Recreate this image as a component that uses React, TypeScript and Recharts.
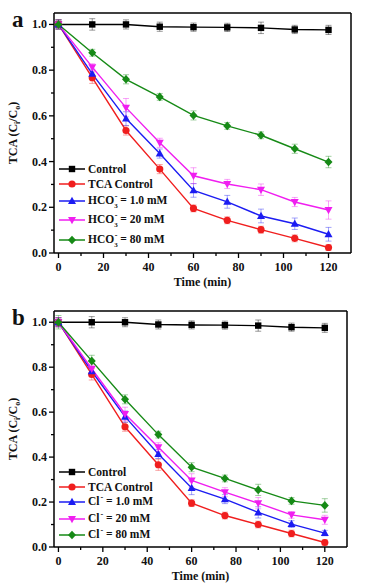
import { ErrorBar, Legend, Line, LineChart, ReferenceLine, XAxis, YAxis } from 'recharts'

// sampling times (min)
const TIME = [0, 15, 30, 45, 60, 75, 90, 105, 120]

// panel a: bicarbonate
const A_CONTROL = [1.0, 1.0, 1.0, 0.99, 0.988, 0.987, 0.985, 0.978, 0.976]
const A_CONTROL_ERR = [0.02, 0.025, 0.02, 0.02, 0.018, 0.018, 0.025, 0.018, 0.02]
const A_TCA = [1.0, 0.767, 0.536, 0.367, 0.195, 0.143, 0.102, 0.064, 0.024]
const A_TCA_ERR = [0.02, 0.025, 0.02, 0.02, 0.015, 0.015, 0.015, 0.015, 0.012]
const HCO3_1 = [1.0, 0.784, 0.588, 0.435, 0.274, 0.224, 0.162, 0.128, 0.082]
const HCO3_1_ERR = [0.02, 0.02, 0.03, 0.02, 0.03, 0.028, 0.03, 0.025, 0.03]
const HCO3_20 = [1.0, 0.813, 0.636, 0.482, 0.338, 0.302, 0.277, 0.223, 0.188]
const HCO3_20_ERR = [0.02, 0.015, 0.04, 0.02, 0.035, 0.02, 0.025, 0.02, 0.04]
const HCO3_80 = [1.0, 0.876, 0.76, 0.683, 0.602, 0.556, 0.515, 0.456, 0.398]
const HCO3_80_ERR = [0.02, 0.015, 0.02, 0.015, 0.02, 0.015, 0.015, 0.02, 0.025]

// panel b: chloride
const B_CONTROL = [1.0, 1.0, 1.0, 0.99, 0.988, 0.987, 0.985, 0.978, 0.975]
const B_CONTROL_ERR = [0.02, 0.025, 0.02, 0.02, 0.018, 0.018, 0.025, 0.018, 0.02]
const B_TCA = [1.0, 0.768, 0.535, 0.366, 0.195, 0.14, 0.1, 0.06, 0.02]
const B_TCA_ERR = [0.02, 0.025, 0.02, 0.025, 0.015, 0.015, 0.015, 0.015, 0.012]
const CL_1 = [1.0, 0.782, 0.58, 0.414, 0.263, 0.213, 0.154, 0.102, 0.062]
const CL_1_ERR = [0.02, 0.02, 0.025, 0.02, 0.03, 0.02, 0.025, 0.015, 0.012]
const CL_20 = [1.0, 0.793, 0.592, 0.444, 0.296, 0.244, 0.195, 0.143, 0.121]
const CL_20_ERR = [0.02, 0.02, 0.03, 0.02, 0.03, 0.02, 0.025, 0.015, 0.02]
const CL_80 = [1.0, 0.828, 0.657, 0.5, 0.355, 0.305, 0.254, 0.205, 0.185]
const CL_80_ERR = [0.03, 0.025, 0.02, 0.015, 0.02, 0.015, 0.025, 0.015, 0.03]

const X_TICKS = [0, 10, 20, 30, 40, 50, 60, 70, 80, 90, 100, 110, 120]
const Y_TICKS = [0, 0.1, 0.2, 0.3, 0.4, 0.5, 0.6, 0.7, 0.8, 0.9, 1.0]

const FONT = '"Liberation Serif", "Times New Roman", serif'

type Shape = 'square' | 'circle' | 'up' | 'down' | 'diamond'

interface SeriesDef {
  key: string
  color: string
  shape: Shape
  values: number[]
  errors: number[]
  label: React.ReactNode
  rowHeight: number
}

function buildRows(series: SeriesDef[]) {
  return TIME.map((t, i) => {
    const row: Record<string, number> = { t }
    series.forEach((s) => {
      row[s.key] = s.values[i]
      row[s.key + 'Err'] = s.errors[i]
    })
    return row
  })
}

function Marker({ cx, cy, shape, color }: { cx: number; cy: number; shape: Shape; color: string }) {
  if (shape === 'square') return <rect x={cx - 3.2} y={cy - 3.2} width={6.4} height={6.4} fill={color} />
  if (shape === 'circle') return <circle cx={cx} cy={cy} r={3.6} fill={color} />
  if (shape === 'up')
    return <polygon points={`${cx},${cy - 4.2} ${cx + 4},${cy + 3} ${cx - 4},${cy + 3}`} fill={color} />
  if (shape === 'down')
    return <polygon points={`${cx},${cy + 4.2} ${cx + 4},${cy - 3} ${cx - 4},${cy - 3}`} fill={color} />
  return <polygon points={`${cx},${cy - 4.3} ${cx + 4},${cy} ${cx},${cy + 4.3} ${cx - 4},${cy}`} fill={color} />
}

function XTick({ x, y, payload }: any) {
  const major = payload.value % 20 === 0
  return (
    <g>
      <line x1={x} x2={x} y1={y} y2={y + (major ? 5 : 3)} stroke="#000" strokeWidth={1.3} />
      {major && (
        <text x={x} y={y + 18} textAnchor="middle" fontFamily={FONT} fontWeight="bold" fontSize={12} fill="#111">
          {payload.value}
        </text>
      )}
    </g>
  )
}

function YTick({ x, y, payload }: any) {
  const major = Math.round(payload.value * 10) % 2 === 0
  return (
    <g>
      <line x1={x} x2={x - (major ? 5 : 3)} y1={y} y2={y} stroke="#000" strokeWidth={1.3} />
      {major && (
        <text x={x - 7} y={y + 4} textAnchor="end" fontFamily={FONT} fontWeight="bold" fontSize={12} fill="#111">
          {payload.value.toFixed(1)}
        </text>
      )}
    </g>
  )
}

function YLabel({ viewBox }: any) {
  const cx = viewBox.x - 7
  const cy = viewBox.y + viewBox.height / 2
  return (
    <text
      x={cx}
      y={cy}
      transform={`rotate(-90, ${cx}, ${cy})`}
      textAnchor="middle"
      fontFamily={FONT}
      fontWeight="bold"
      fontSize={12}
      fill="#111"
    >
      TCA (C
      <tspan fontSize={8} dy={3}>
        i
      </tspan>
      <tspan dy={-3}>/C</tspan>
      <tspan fontSize={8} dy={3}>
        o
      </tspan>
      <tspan dy={-3}>)</tspan>
    </text>
  )
}

function XLabel({ viewBox }: any) {
  return (
    <text
      x={viewBox.x + viewBox.width / 2}
      y={viewBox.y + 33}
      textAnchor="middle"
      fontFamily={FONT}
      fontWeight="bold"
      fontSize={12}
      fill="#111"
    >
      Time (min)
    </text>
  )
}

function LegendBox({ series }: { series: SeriesDef[] }) {
  return (
    <div style={{ fontFamily: FONT, fontWeight: 'bold', fontSize: 11.5, color: '#111' }}>
      {series.map((s) => (
        <div key={s.key} style={{ height: s.rowHeight, display: 'flex', alignItems: 'center' }}>
          <svg width={29} height={10} style={{ flex: 'none' }}>
            <line x1={0} x2={26} y1={5} y2={5} stroke={s.color} strokeWidth={1.5} />
            <Marker cx={13} cy={5} shape={s.shape} color={s.color} />
          </svg>
          <span style={{ whiteSpace: 'nowrap', lineHeight: '12px' }}>{s.label}</span>
        </div>
      ))}
    </div>
  )
}

function Ion({ base, sub, value }: { base: string; sub?: string; value: string }) {
  return (
    <>
      {base}
      {sub && <span style={{ fontSize: 7, position: 'relative', top: 4 }}>{sub}</span>}
      <span style={{ fontSize: 8, position: 'relative', top: -5, marginLeft: sub ? -3 : 1 }}>-</span>
      {` = ${value} mM`}
    </>
  )
}

interface PanelProps {
  letter: string
  series: SeriesDef[]
  top: number
  height: number
  margin: { top: number; right: number; left: number; bottom: number }
  xAxisHeight: number
  legendTop: number
}

function Panel({ letter, series, top, height, margin, xAxisHeight, legendTop }: PanelProps) {
  const rows = buildRows(series)
  return (
    <div style={{ position: 'absolute', left: 0, top, width: 368, height }}>
      <div
        style={{
          position: 'absolute',
          left: 12,
          top: margin.top - 5,
          fontFamily: FONT,
          fontWeight: 'bold',
          fontSize: 23,
          lineHeight: '23px',
          color: '#111',
        }}
      >
        {letter}
      </div>
      <LineChart width={368} height={height} data={rows} margin={margin}>
        <XAxis
          dataKey="t"
          type="number"
          domain={[-2, 130]}
          ticks={X_TICKS}
          interval={0}
          tickSize={0}
          tickMargin={0}
          tick={XTick}
          height={xAxisHeight}
          axisLine={{ stroke: '#000', strokeWidth: 1.5 }}
          label={<XLabel />}
        />
        <YAxis
          type="number"
          domain={[0, 1.05]}
          ticks={Y_TICKS}
          interval={0}
          tickSize={0}
          tickMargin={0}
          tick={YTick}
          width={30}
          axisLine={{ stroke: '#000', strokeWidth: 1.5 }}
          label={<YLabel />}
        />
        <ReferenceLine y={1.05} stroke="#000" strokeWidth={1.5} />
        <ReferenceLine x={130} stroke="#000" strokeWidth={1.5} />
        {series.map((s) => (
          <Line
            key={s.key}
            dataKey={s.key}
            type="linear"
            stroke={s.color}
            strokeWidth={1.4}
            isAnimationActive={false}
            dot={(p: any) => <Marker key={p.index} cx={p.cx} cy={p.cy} shape={s.shape} color={s.color} />}
            activeDot={false}
          >
            <ErrorBar dataKey={s.key + 'Err'} width={3} strokeWidth={1} stroke={s.color} strokeOpacity={0.4} direction="y" />
          </Line>
        ))}
        <Legend
          layout="horizontal"
          verticalAlign="middle"
          align="center"
          wrapperStyle={{ left: 59, top: legendTop, width: 170 }}
          content={() => <LegendBox series={series} />}
        />
      </LineChart>
    </div>
  )
}

const SERIES_A: SeriesDef[] = [
  { key: 'control', color: '#000000', shape: 'square', values: A_CONTROL, errors: A_CONTROL_ERR, label: 'Control', rowHeight: 14.5 },
  { key: 'tca', color: '#f01e1e', shape: 'circle', values: A_TCA, errors: A_TCA_ERR, label: 'TCA Control', rowHeight: 14.5 },
  { key: 'ion1', color: '#1c1cf2', shape: 'up', values: HCO3_1, errors: HCO3_1_ERR, label: <Ion base="HCO" sub="3" value="1.0" />, rowHeight: 19.5 },
  { key: 'ion20', color: '#f01ef0', shape: 'down', values: HCO3_20, errors: HCO3_20_ERR, label: <Ion base="HCO" sub="3" value="20" />, rowHeight: 19.5 },
  { key: 'ion80', color: '#168a16', shape: 'diamond', values: HCO3_80, errors: HCO3_80_ERR, label: <Ion base="HCO" sub="3" value="80" />, rowHeight: 19.5 },
]

const SERIES_B: SeriesDef[] = [
  { key: 'control', color: '#000000', shape: 'square', values: B_CONTROL, errors: B_CONTROL_ERR, label: 'Control', rowHeight: 14.5 },
  { key: 'tca', color: '#f01e1e', shape: 'circle', values: B_TCA, errors: B_TCA_ERR, label: 'TCA Control', rowHeight: 14.5 },
  { key: 'ion1', color: '#1c1cf2', shape: 'up', values: CL_1, errors: CL_1_ERR, label: <Ion base="Cl" value="1.0" />, rowHeight: 16.5 },
  { key: 'ion20', color: '#f01ef0', shape: 'down', values: CL_20, errors: CL_20_ERR, label: <Ion base="Cl" value="20" />, rowHeight: 16.5 },
  { key: 'ion80', color: '#168a16', shape: 'diamond', values: CL_80, errors: CL_80_ERR, label: <Ion base="Cl" value="80" />, rowHeight: 16.5 },
]

export default function App() {
  return (
    <div style={{ position: 'absolute', left: 0, top: 0, width: 368, height: 588, background: '#fff' }}>
      <Panel
        letter="a"
        series={SERIES_A}
        top={0}
        height={296}
        margin={{ top: 13, right: 17, left: 24, bottom: 0 }}
        xAxisHeight={43}
        legendTop={162}
      />
      <Panel
        letter="b"
        series={SERIES_B}
        top={296}
        height={292}
        margin={{ top: 15, right: 21, left: 24, bottom: 0 }}
        xAxisHeight={41}
        legendTop={169}
      />
    </div>
  )
}
